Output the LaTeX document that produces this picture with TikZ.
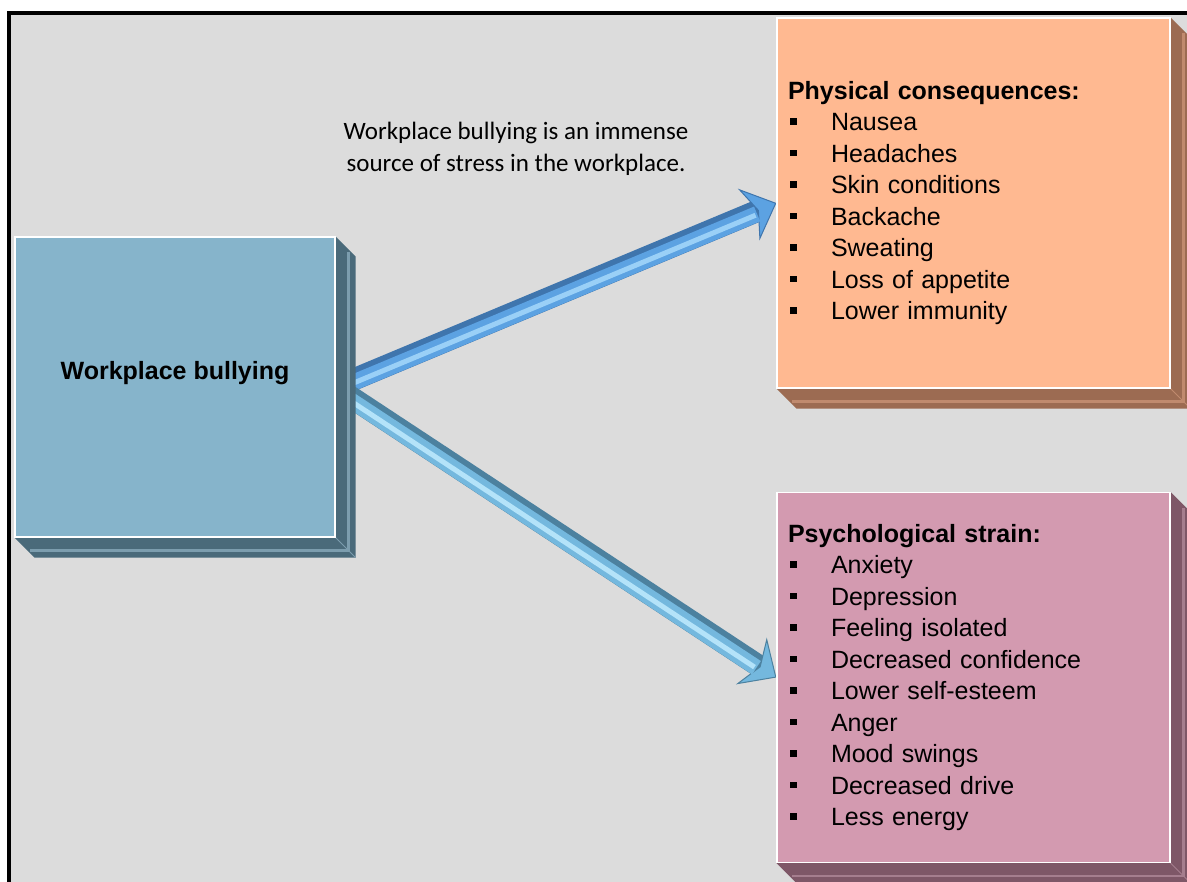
\documentclass[tikz,border=0pt]{standalone}
\usepackage{fontspec}
\setmainfont{Liberation Sans}
\newfontfamily\carlito{Carlito}
\usetikzlibrary{arrows.meta,calc}
\pgfdeclarelayer{canvas}
\pgfdeclarelayer{tubes}
\pgfdeclarelayer{slabs}
\pgfsetlayers{canvas,tubes,slabs,main}
\definecolor{paper}{HTML}{DCDCDC}
\definecolor{bullyblue}{HTML}{86B4CB}
\definecolor{bullyside}{HTML}{4A6A7A}
\definecolor{bullyridge}{HTML}{7C9DAE}
\definecolor{physorange}{HTML}{FFB991}
\definecolor{physside}{HTML}{9C6B52}
\definecolor{physridge}{HTML}{C08A6E}
\definecolor{psychpink}{HTML}{D39AB0}
\definecolor{psychside}{HTML}{7E5767}
\definecolor{psychridge}{HTML}{A57E8E}
\definecolor{tubedarkA}{HTML}{3F75AD}
\definecolor{tubemidA}{HTML}{5CA2E2}
\definecolor{tubelightA}{HTML}{9AD0F7}
\definecolor{tubedarkB}{HTML}{4C819F}
\definecolor{tubemidB}{HTML}{74B8DE}
\definecolor{tubelightB}{HTML}{B4E3F9}
% square bullet of the lists
\newcommand\itm{\makebox[43pt][l]{\hspace{2pt}\rule[6pt]{6.5pt}{6.5pt}}}
% 3d side of a card: node, side colour, ridge colour
\newcommand\boxslab[3]{%
  \fill[#2] (#1.north east) -- ++(20,20) -- ($(#1.south east)+(20,20)$) -- ($(#1.south west)+(20,20)$) -- (#1.south west) -- (#1.south east) -- cycle;
  \draw[#3,line width=2.5pt] ($(#1.north east)+(13,16)$) -- ($(#1.south east)+(13,13)$) -- ($(#1.south west)+(16,13)$);
  \draw[#3,line width=1pt] (#1.south east) -- ++(20,20);
}
\begin{document}
\begin{tikzpicture}[x=1pt,y=-1pt,
  card/.style={draw=white,line width=1.2pt,inner sep=0pt},
  listcard/.style={card,minimum width=393pt,minimum height=370pt,text width=371pt,inner xsep=11pt,align=left,font=\fontsize{25}{31.5}\selectfont},
  tube/.style={line width=22pt,-{Stealth[length=30pt,width=56pt,inset=10pt,line width=1pt,fill=#1]}}]
  \useasboundingbox (0,0) rectangle (1187,882);
  \clip (0,0) rectangle (1187,882);
  \node[card,fill=bullyblue,minimum width=320pt,minimum height=300pt] (bully) at (175,387) {};
  \node[font=\bfseries\fontsize{25}{30}\selectfont] (bullytext) at ([yshift=14pt]bully.center) {Workplace bullying};
  \node[listcard,fill=physorange] (phys) at (973.5,203) {{\bfseries Physical consequences:}\\
    \itm Nausea\\
    \itm Headaches\\
    \itm Skin conditions\\
    \itm Backache\\
    \itm Sweating\\
    \itm Loss of appetite\\
    \itm Lower immunity};
  \node[listcard,fill=psychpink] (psych) at (973.5,677.5) {{\bfseries Psychological strain:}\\
    \itm Anxiety\\
    \itm Depression\\
    \itm Feeling isolated\\
    \itm Decreased confidence\\
    \itm Lower self-esteem\\
    \itm Anger\\
    \itm Mood swings\\
    \itm Decreased drive\\
    \itm Less energy};
  \node[font=\carlito\fontsize{25}{32}\selectfont,align=center] (note) at (516,149) {Workplace bullying is an immense\\source of stress in the workplace.};
  \begin{pgfonlayer}{canvas}
    \fill[white] (0,0) rectangle (1187,882);
    \fill[paper] (9,13) rectangle (1187,882);
    \draw[line width=4pt] (9,886) -- (9,13) -- (1190,13);
  \end{pgfonlayer}
  \begin{pgfonlayer}{tubes}
    \draw[tube=tubemidA,tubedarkA] (bully.east) -- (phys.west);
    \draw[line width=16pt,tubemidA,shorten >=22pt,transform canvas={shift={(1pt,-2.5pt)}}] (bully.east) -- (phys.west);
    \draw[line width=5pt,tubelightA,shorten >=24pt,transform canvas={shift={(1.3pt,-3pt)}}] (bully.east) -- (phys.west);
    \draw[tube=tubemidB,tubedarkB] (bully.east) -- (psych.west);
    \draw[line width=16pt,tubemidB,shorten >=22pt,transform canvas={shift={(-1.6pt,-2.3pt)}}] (bully.east) -- (psych.west);
    \draw[line width=5pt,tubelightB,shorten >=24pt,transform canvas={shift={(-1.9pt,-2.8pt)}}] (bully.east) -- (psych.west);
  \end{pgfonlayer}
  \begin{pgfonlayer}{slabs}
    \boxslab{bully}{bullyside}{bullyridge}
    \boxslab{phys}{physside}{physridge}
    \boxslab{psych}{psychside}{psychridge}
  \end{pgfonlayer}
\end{tikzpicture}
\end{document}
